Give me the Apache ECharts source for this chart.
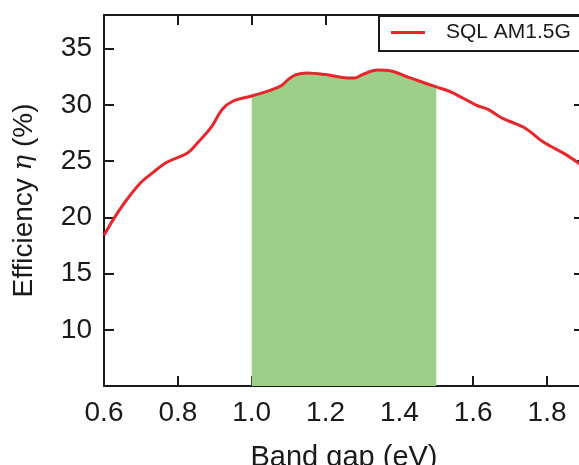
<!DOCTYPE html>
<html>
<head>
<meta charset="utf-8">
<script src="https://cdn.jsdelivr.net/npm/echarts@6/dist/echarts.min.js"></script>
<style>
  html, body { margin: 0; padding: 0; background: #fff; }
  #chart { width: 579px; height: 465px; }
</style>
</head>
<body>
<div id="chart"></div>
<script>
// Shockley–Queisser limit efficiency vs band gap, AM1.5G spectrum
const bandGap = [0.60, 0.625, 0.66, 0.70, 0.733, 0.77, 0.825, 0.85, 0.89, 0.92, 0.95,
                 1.00, 1.05, 1.08, 1.10, 1.12, 1.15, 1.20, 1.26, 1.28, 1.30, 1.34, 1.38,
                 1.43, 1.50, 1.54, 1.59, 1.61, 1.64, 1.68, 1.74, 1.79, 1.85, 1.90];
const efficiency = [18.4, 19.8, 21.5, 23.1, 24.0, 24.9, 25.7, 26.5, 28.0, 29.6, 30.35,
                    30.8, 31.3, 31.7, 32.3, 32.7, 32.85, 32.7, 32.4, 32.4, 32.7, 33.1, 33.0,
                    32.4, 31.6, 31.15, 30.3, 29.95, 29.6, 28.8, 27.95, 26.7, 25.6, 24.5];
// highlighted optimal band-gap window
const windowRange = [1.0, 1.5];
const xTicks = { min: 0.6, max: 1.9, step: 0.2 };
const yTicks = { min: 5, max: 38, step: 5 };
const seriesName = 'SQL AM1.5G';

const curve = bandGap.map((x, i) => [x, efficiency[i]]);
const windowPts = curve.filter(p => p[0] >= windowRange[0] && p[0] <= windowRange[1]);

const FONT = '"Liberation Sans", Arial, Helvetica, sans-serif';
const INK = '#1a1a1a';
const frameLine = { show: true, lineStyle: { color: INK, width: 2 } };
const frameTick = { show: true, inside: true, length: 10, lineStyle: { color: INK, width: 2 } };

const chart = echarts.init(document.getElementById('chart'), null, { renderer: 'canvas' });
chart.setOption({
  animation: false,
  backgroundColor: '#fff',
  grid: { left: 104, top: 15, width: 480, height: 371, containLabel: false, outerBoundsMode: 'none' },
  // legend frame, running off past the right edge of the frame
  graphic: [{
    type: 'rect', left: 378, top: 15, z: 50,
    shape: { width: 230, height: 35 },
    style: { fill: '#fff', stroke: INK, lineWidth: 2 }
  }],
  legend: {
    left: 378, top: 15, z: 60,
    padding: [7, 10, 7, 13],
    itemWidth: 34, itemHeight: 3,
    icon: 'rect',
    data: [{ name: seriesName, itemStyle: { color: '#e8262b' } }],
    textStyle: { fontFamily: FONT, fontSize: 21, color: INK, padding: [0, 0, 0, 16] }
  },
  xAxis: [{
    type: 'value', position: 'bottom',
    min: xTicks.min, max: xTicks.max, interval: xTicks.step,
    name: 'Band gap (eV)', nameLocation: 'middle', nameGap: 57,
    nameTextStyle: { fontFamily: FONT, fontSize: 29, color: INK },
    axisLine: frameLine, axisTick: frameTick,
    axisLabel: { fontFamily: FONT, fontSize: 28, color: INK, margin: 13, showMaxLabel: false,
                 formatter: v => v.toFixed(1) },
    splitLine: { show: false }
  }, {
    type: 'value', position: 'top',
    min: xTicks.min, max: xTicks.max, interval: xTicks.step,
    axisLine: frameLine, axisTick: frameTick,
    axisLabel: { show: false }, splitLine: { show: false }
  }],
  yAxis: [{
    type: 'value', position: 'left',
    min: yTicks.min, max: yTicks.max, interval: yTicks.step,
    name: 'Efficiency {i|η} (%)', nameLocation: 'middle', nameGap: 66, nameRotate: 90,
    nameTextStyle: { fontFamily: FONT, fontSize: 28, color: INK,
                     rich: { i: { fontFamily: '"DejaVu Serif", serif', fontStyle: 'italic', fontSize: 26, color: INK } } },
    axisLine: frameLine, axisTick: frameTick,
    axisLabel: { fontFamily: FONT, fontSize: 28, color: INK, margin: 12,
                 showMinLabel: false, showMaxLabel: false },
    splitLine: { show: false }
  }, {
    type: 'value', position: 'right',
    min: yTicks.min, max: yTicks.max, interval: yTicks.step,
    axisLine: frameLine, axisTick: frameTick,
    axisLabel: { show: false }, splitLine: { show: false }
  }],
  series: [{
    name: 'window', type: 'line', data: windowPts,
    smooth: 0.3, symbol: 'none', silent: true, z: 1,
    lineStyle: { width: 0, opacity: 0 },
    areaStyle: { color: '#9dcf88', opacity: 1, origin: 'start' }
  }, {
    name: seriesName, type: 'line', data: curve,
    smooth: 0.3, symbol: 'none', z: 3,
    lineStyle: { color: '#e8262b', width: 3 },
    itemStyle: { color: '#e8262b' }
  }]
});
</script>
</body>
</html>
